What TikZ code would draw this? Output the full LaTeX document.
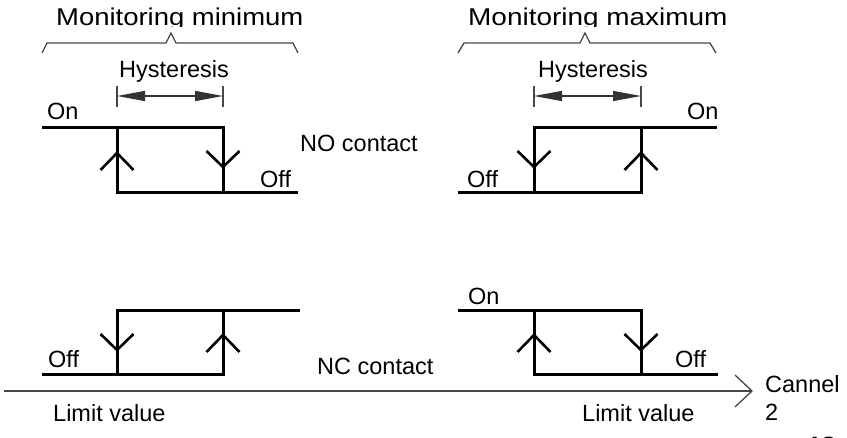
\documentclass[tikz,border=0pt]{standalone}
\usepackage{fontspec}
\setmainfont{Liberation Sans}
\usetikzlibrary{arrows.meta}
\begin{document}
\begin{tikzpicture}[x=1pt,y=-1pt,
  lbl/.style={anchor=base west, inner sep=0pt, font=\fontsize{23.5}{28}\selectfont},
  ttl/.style={anchor=base west, inner sep=0pt, font=\fontsize{24.3}{28}\selectfont},
  heavy/.style={line width=3pt, line join=miter},
  chev/.style={line width=2.6pt, line join=miter},
  thinl/.style={line width=1.3pt, draw=black!72},
  dimarrow/.style={line width=1.2pt, draw=black!80, {Triangle[length=28pt,width=10pt]}-{Triangle[length=28pt,width=10pt]}},
  chevup/.pic={\draw[chev] (-16.5,17) -- (0,0) -- (16.5,17);},
  chevdown/.pic={\draw[chev] (-16.5,-16) -- (0,0) -- (16.5,-16);}
]
\useasboundingbox (0,0) rectangle (847,438);
\clip (0,0) rectangle (847,438);

% titles (clipped at the baseline as in the reference)
\begin{scope}
  \clip (0,0) rectangle (847,26.5);
  \node[ttl] (tmin) at (56,26) {\scalebox{1.13}[1]{Monitoring minimum}};
  \node[ttl] (tmax) at (468,26) {\scalebox{1.15}[1]{Monitoring maximum}};
\end{scope}

% braces
\draw[thinl] (42,53) -- (47,43) -- (166,43) -- (171,33) -- (176,43) -- (293,43) -- (298,53);
\draw[thinl] (458,53) -- (464,43) -- (580,43) -- (585,33) -- (590,43) -- (710,43) -- (716,53);

% hysteresis labels
\node[lbl] (hys1) at (119,78) {Hysteresis};
\node[lbl] (hys2) at (538,78) {Hysteresis};

% dimension lines
\coordinate (d1a) at (117,96); \coordinate (d1b) at (223,96);
\coordinate (d2a) at (534,96); \coordinate (d2b) at (641,96);
\draw[thinl] (117,86) -- (117,107); \draw[thinl] (223,86) -- (223,107);
\draw[thinl] (534,86) -- (534,107); \draw[thinl] (641,86) -- (641,107);
\draw[dimarrow] (d1a) -- (d1b);
\draw[dimarrow] (d2a) -- (d2b);

% panel 1 : NO contact, minimum
\coordinate (a1) at (42,128); \coordinate (a2) at (117,128); \coordinate (a3) at (223,128);
\coordinate (a4) at (117,193); \coordinate (a5) at (223,193); \coordinate (a6) at (298,193);
\draw[heavy] (a1) -- (a3) -- (a5);
\draw[heavy] (a2) -- (a4) -- (a6);
\pic at (117,153) {chevup};
\pic at (223,167) {chevdown};
\node[lbl] (on1) at (47,120) {On};
\node[lbl] (off1) at (260,188) {Off};

% panel 2 : NO contact, maximum
\coordinate (b1) at (458,193); \coordinate (b2) at (534,193); \coordinate (b3) at (641,193);
\coordinate (b4) at (534,128); \coordinate (b5) at (641,128); \coordinate (b6) at (717,128);
\draw[heavy] (b1) -- (b3) -- (b5);
\draw[heavy] (b2) -- (b4) -- (b6);
\pic at (534,167) {chevdown};
\pic at (641,153) {chevup};
\node[lbl] (on2) at (687,120) {On};
\node[lbl] (off2) at (467,188) {Off};

\node[lbl] (no) at (300,152) {NO contact};

% panel 3 : NC contact, minimum
\coordinate (c1) at (42,375); \coordinate (c2) at (117,375); \coordinate (c3) at (223,375);
\coordinate (c4) at (117,311); \coordinate (c5) at (223,311); \coordinate (c6) at (300,311);
\draw[heavy] (c1) -- (c3) -- (c5);
\draw[heavy] (c2) -- (c4) -- (c6);
\pic at (117,350) {chevdown};
\pic at (223,335) {chevup};
\node[lbl] (off3) at (48,368) {Off};

% panel 4 : NC contact, maximum
\coordinate (e1) at (458,311); \coordinate (e2) at (534,311); \coordinate (e3) at (641,311);
\coordinate (e4) at (534,375); \coordinate (e5) at (641,375); \coordinate (e6) at (718,375);
\draw[heavy] (e1) -- (e3) -- (e5);
\draw[heavy] (e2) -- (e4) -- (e6);
\pic at (534,335) {chevup};
\pic at (641,350) {chevdown};
\node[lbl] (on4) at (468,305) {On};
\node[lbl] (off4) at (675,368) {Off};

\node[lbl] (nc) at (317,375) {NC contact};

% axis
\coordinate (ax0) at (4,391); \coordinate (ax1) at (752,391);
\draw[thinl] (ax0) -- (ax1);
\draw[thinl] (735,375) -- (ax1) -- (735,407);

\node[lbl] (lim1) at (53,422) {Limit value};
\node[lbl] (lim2) at (582,422) {Limit value};
\node[lbl] (can) at (765,393) {Cannel};
\node[lbl] (two) at (765,421) {2};
\node[lbl] (degc) at (810,454) {°C};
\end{tikzpicture}
\end{document}
